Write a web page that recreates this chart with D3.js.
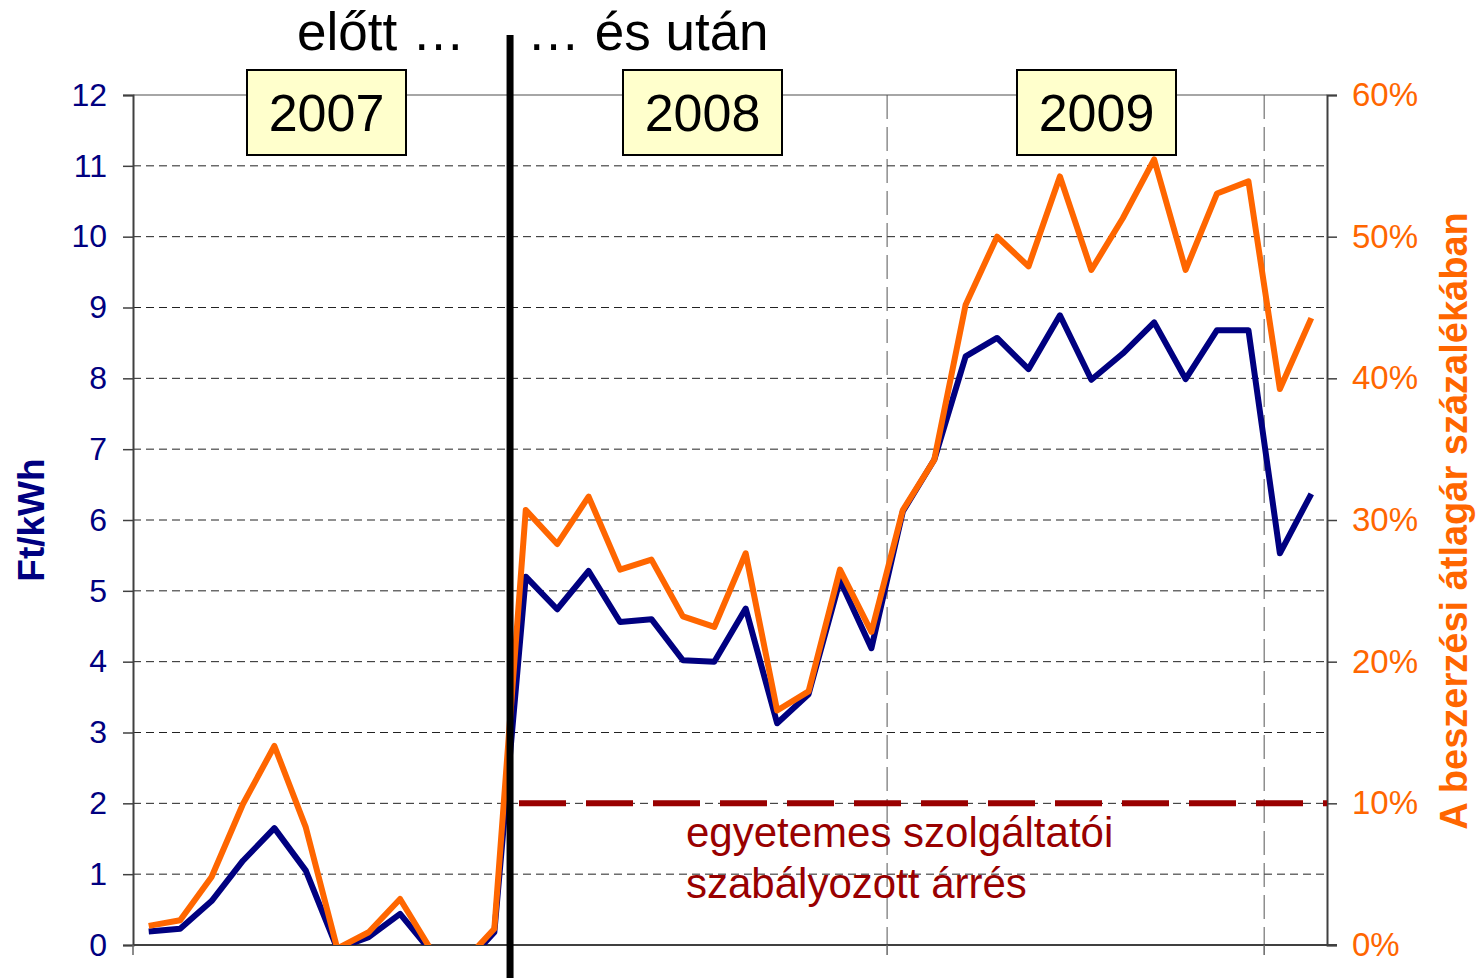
<!DOCTYPE html>
<html>
<head>
<meta charset="utf-8">
<script src="https://cdn.jsdelivr.net/npm/d3@7"></script>
<style>
  body { margin: 0; background: #fff; }
  svg { display: block; font-family: Arial, "Liberation Sans", sans-serif; }
</style>
</head>
<body>
<svg id="chart" width="1477" height="978"></svg>
<script>
// monthly categories, Jan 2007 - Feb 2010
var months = [
    "2007-01", "2007-02", "2007-03", "2007-04", "2007-05", "2007-06",
    "2007-07", "2007-08", "2007-09", "2007-10", "2007-11", "2007-12",
    "2008-01", "2008-02", "2008-03", "2008-04", "2008-05", "2008-06",
    "2008-07", "2008-08", "2008-09", "2008-10", "2008-11", "2008-12",
    "2009-01", "2009-02", "2009-03", "2009-04", "2009-05", "2009-06",
    "2009-07", "2009-08", "2009-09", "2009-10", "2009-11", "2009-12",
    "2010-01", "2010-02"
];
// margin, Ft/kWh (left axis)
var marginFt = [
    0.19, 0.23, 0.62, 1.19, 1.65, 1.05, -0.05, 0.11, 0.44, -0.1, -0.3, 0.18,
    5.2, 4.74, 5.28, 4.56, 4.6, 4.02, 4.0, 4.75, 3.13, 3.54, 5.15, 4.19,
    6.12, 6.85, 8.31, 8.57, 8.13, 8.89, 7.98, 8.35, 8.79, 7.99, 8.68, 8.68,
    5.53, 6.37
];
// margin as % of average purchase price (right axis)
var marginPct = [
    1.35, 1.75, 4.8, 9.95, 14.05, 8.3, -0.25, 0.9, 3.25, -0.4, -1.25, 1.15,
    30.7, 28.3, 31.65, 26.5, 27.2, 23.2, 22.45, 27.65, 16.55, 17.9, 26.5, 22.1,
    30.7, 34.25, 45.2, 50.0, 47.9, 54.25, 47.65, 51.3, 55.45, 47.65, 53.05, 53.9,
    39.25, 44.25
];
var leftTicks = [0, 1, 2, 3, 4, 5, 6, 7, 8, 9, 10, 11, 12];
var rightTicks = [0, 10, 20, 30, 40, 50, 60];
var years = ["2007", "2008", "2009"];
var regulatedPct = 10;

var svg = d3.select("#chart");
var plotL = 133, plotR = 1327, plotT = 95, plotB = 945;

var x = d3.scalePoint().domain(months).range([plotL, plotR]).padding(0.5);
var step = x.step();
var y = d3.scaleLinear().domain([0, 12]).range([plotB, plotT]);
var yR = d3.scaleLinear().domain([0, 60]).range([plotB, plotT]);

svg.append("defs").append("clipPath").attr("id", "plot")
    .append("rect").attr("x", plotL).attr("y", plotT - 10)
    .attr("width", plotR - plotL).attr("height", plotB - plotT + 10);

// horizontal gridlines
svg.append("g").selectAll("line")
    .data(leftTicks.filter(function (d) { return d > 0 && d < 12; }))
    .enter().append("line")
    .attr("x1", plotL).attr("x2", plotR)
    .attr("y1", function (d) { return y(d); })
    .attr("y2", function (d) { return y(d); })
    .attr("stroke", "#222").attr("stroke-width", 1)
    .attr("stroke-dasharray", "8,5");
svg.append("line")
    .attr("x1", plotL).attr("x2", plotR).attr("y1", y(12)).attr("y2", y(12))
    .attr("stroke", "#888").attr("stroke-width", 1.5);

// vertical year gridlines
var yearBounds = [12, 24, 36].map(function (i) { return x(months[i]) - step / 2; });
svg.append("g").selectAll("line")
    .data(yearBounds)
    .enter().append("line")
    .attr("x1", function (d) { return d; }).attr("x2", function (d) { return d; })
    .attr("y1", plotT).attr("y2", plotB)
    .attr("stroke", "#555").attr("stroke-width", 1)
    .attr("stroke-dasharray", "24,8");

// left axis
var gl = svg.append("g")
    .attr("transform", "translate(" + plotL + ",0)")
    .call(d3.axisLeft(y).tickValues(leftTicks).tickSize(10).tickPadding(16));
gl.select(".domain").attr("stroke", "#404040").attr("stroke-width", 2);
gl.selectAll(".tick line").attr("stroke", "#404040").attr("stroke-width", 1.5);
gl.selectAll(".tick text").attr("fill", "#000080").style("font-size", "32px")
    .attr("font-family", "Arial, 'Liberation Sans', sans-serif");

// right axis
var gr = svg.append("g")
    .attr("transform", "translate(" + plotR + ",0)")
    .call(d3.axisRight(yR).tickValues(rightTicks).tickSize(10).tickPadding(15)
        .tickFormat(function (d) { return d + "%"; }));
gr.select(".domain").attr("stroke", "#404040").attr("stroke-width", 2);
gr.selectAll(".tick line").attr("stroke", "#404040").attr("stroke-width", 1.5);
gr.selectAll(".tick text").attr("fill", "#FF6600").style("font-size", "33px")
    .attr("font-family", "Arial, 'Liberation Sans', sans-serif");

// bottom axis
svg.append("line")
    .attr("x1", plotL).attr("x2", plotR + 10).attr("y1", plotB).attr("y2", plotB)
    .attr("stroke", "#404040").attr("stroke-width", 2);
svg.append("g").selectAll("line")
    .data([plotL].concat(yearBounds))
    .enter().append("line")
    .attr("x1", function (d) { return d; }).attr("x2", function (d) { return d; })
    .attr("y1", plotB).attr("y2", plotB + 10)
    .attr("stroke", "#666").attr("stroke-width", 1.5);

// regulated margin line
svg.append("line")
    .attr("x1", 519).attr("x2", plotR)
    .attr("y1", yR(regulatedPct)).attr("y2", yR(regulatedPct))
    .attr("stroke", "#990000").attr("stroke-width", 6)
    .attr("stroke-dasharray", "47,20");

// series lines
var plot = svg.append("g").attr("clip-path", "url(#plot)");
var lineFt = d3.line()
    .x(function (d, i) { return x(months[i]); })
    .y(function (d) { return y(d); });
var linePct = d3.line()
    .x(function (d, i) { return x(months[i]); })
    .y(function (d) { return yR(d); });
plot.append("path").datum(marginFt)
    .attr("d", lineFt).attr("fill", "none")
    .attr("stroke", "#000080").attr("stroke-width", 6)
    .attr("stroke-linejoin", "round");
plot.append("path").datum(marginPct)
    .attr("d", linePct).attr("fill", "none")
    .attr("stroke", "#FF6600").attr("stroke-width", 6)
    .attr("stroke-linejoin", "round");

// before / after divider
svg.append("line")
    .attr("x1", yearBounds[0]).attr("x2", yearBounds[0])
    .attr("y1", 35).attr("y2", 978)
    .attr("stroke", "#000").attr("stroke-width", 7);

svg.append("text").attr("x", 465).attr("y", 50)
    .attr("text-anchor", "end").style("font-size", "53px").attr("fill", "#000")
    .text("előtt …");
svg.append("text").attr("x", 527).attr("y", 50)
    .attr("text-anchor", "start").style("font-size", "53px").attr("fill", "#000")
    .text("… és után");

// year boxes
var boxX = [247, 623, 1017];
years.forEach(function (yr, i) {
    svg.append("rect")
        .attr("x", boxX[i]).attr("y", 70).attr("width", 159).attr("height", 85)
        .attr("fill", "#FFFFCC").attr("stroke", "#000").attr("stroke-width", 2);
    svg.append("text")
        .attr("x", boxX[i] + 79.5).attr("y", 131)
        .attr("text-anchor", "middle").style("font-size", "52px").attr("fill", "#000")
        .text(yr);
});

// regulated margin label
svg.append("text").attr("x", 686).attr("y", 847)
    .style("font-size", "42px").attr("fill", "#990000")
    .text("egyetemes szolgáltatói");
svg.append("text").attr("x", 686).attr("y", 898)
    .style("font-size", "42px").attr("fill", "#990000")
    .text("szabályozott árrés");

// axis titles
svg.append("text")
    .attr("transform", "translate(44," + 520 + ") rotate(-90)")
    .attr("text-anchor", "middle").style("font-size", "37px")
    .style("font-weight", "bold").attr("fill", "#000080")
    .text("Ft/kWh");
svg.append("text")
    .attr("transform", "translate(1467," + 521 + ") rotate(-90)")
    .attr("text-anchor", "middle").style("font-size", "38px")
    .style("font-weight", "bold").attr("fill", "#FF6600")
    .text("A beszerzési átlagár százalékában");
</script>
</body>
</html>
